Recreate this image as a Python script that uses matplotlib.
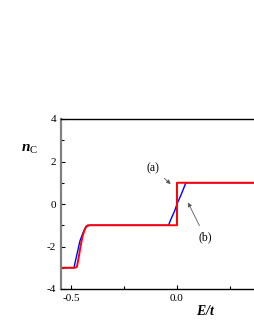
import matplotlib
matplotlib.use("Agg")
import matplotlib.pyplot as plt

# curve (b): blue, smooth steps
blue_e = [-0.547, -0.49, -0.486, -0.458, -0.445, -0.434, -0.425, -0.41,
          -0.04, -0.03, -0.01, 0.0, 0.02, 0.042, 0.368]
blue_n = [-3, -3, -3, -1.75, -1.4, -1.15, -1.05, -1.0,
          -1.0, -0.75, -0.3, 0.0, 0.45, 1.0, 1.0]

# curve (a): red, sharp steps
red_e = [-0.547, -0.48, -0.472, -0.465, -0.455, -0.445, -0.435, -0.428, -0.42,
         0.0, 0.0, 0.368]
red_n = [-3, -3, -2.95, -2.6, -2.0, -1.5, -1.2, -1.05, -1.0,
         -1.0, 1.0, 1.0]

plt.rcParams["font.family"] = ["Liberation Serif", "DejaVu Serif"]
plt.rcParams["mathtext.fontset"] = "custom"
plt.rcParams["mathtext.rm"] = "Liberation Serif"
plt.rcParams["mathtext.it"] = "Liberation Serif:italic"
plt.rcParams["mathtext.bf"] = "Liberation Serif:italic:bold"

fig = plt.figure(figsize=(2.55, 3.3), dpi=100)
ax = fig.add_axes([61 / 255, 1 - 289 / 330, 1 - 61 / 255, (289 - 119) / 330])

ax.plot(blue_e, blue_n, color="blue", lw=1.0)
ax.plot(red_e, red_n, color="red", lw=1.4)

ax.set_xlim(-0.547, 0.368)
ax.set_ylim(-4, 4)
ax.set_xticks([-0.5, 0.0])
ax.set_xticklabels(["-0.5", "0.0"])
ax.set_xticks([-0.25, 0.25], minor=True)
ax.set_yticks([-4, -2, 0, 2, 4])
ax.set_yticklabels(["-4", "-2", "0", "2", "4"])
ax.set_yticks([-3, -1, 1, 3], minor=True)
ax.tick_params(which="both", direction="in", labelsize=8, width=0.8)
ax.tick_params(which="major", length=3)
ax.tick_params(which="minor", length=2)

ax.spines["right"].set_visible(False)
ax.spines["left"].set_color("0.5")
ax.spines["left"].set_linewidth(1.6)
ax.spines["top"].set_linewidth(1.0)
ax.spines["bottom"].set_linewidth(1.0)

arrow = dict(arrowstyle="-|>", color="0.35", lw=0.6, mutation_scale=6, shrinkA=2)
ax.annotate("(a)", xy=(-0.02, 0.85), xytext=(-0.113, 1.69),
            ha="center", va="center", fontsize=8.5, arrowprops=arrow)
ax.annotate("(b)", xy=(0.046, 0.19), xytext=(0.132, -1.55),
            ha="center", va="center", fontsize=8.5, arrowprops=arrow)

fig.text(30 / 255, 1 - 149 / 330, r"$\mathbf{n}_{\mathrm{C}}$",
         ha="center", va="center", fontsize=11)
fig.text(206 / 255, 1 - 311 / 330, r"$\mathbf{E/t}$",
         ha="center", va="center", fontsize=10)

fig.savefig("out.png", dpi=100)
